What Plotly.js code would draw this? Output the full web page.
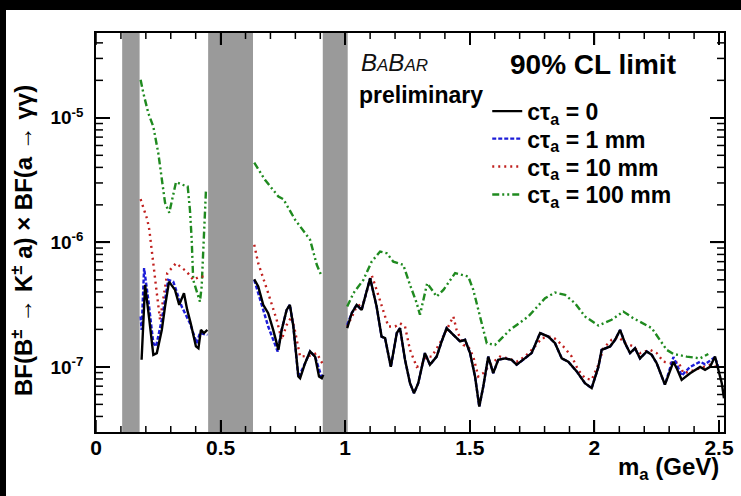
<!DOCTYPE html>
<html>
<head>
<meta charset="utf-8">
<script src="https://cdn.plot.ly/plotly-3.0.1.min.js"></script>
<style>
  html, body { margin: 0; padding: 0; background: #000; width: 741px; height: 496px; overflow: hidden; }
  #chart { position: absolute; left: 6px; top: 10px; width: 735px; height: 486px; background: #fff; }
</style>
</head>
<body>
<div id="chart"></div>
<script>
// 90% CL upper limits on BF(B± → K± a) × BF(a → γγ) versus m_a (GeV).
// Limits are stored in units of 1e-7; each series is split into the three
// mass windows between the vetoed pi0 / eta / eta' regions.

// Vetoed mass regions (GeV)
const vetoLow  = [0.105, 0.45, 0.91];
const vetoHigh = [0.175, 0.63, 1.01];

// c tau_a = 0
const mass0 = [
  [0.183,0.186,0.197,0.214,0.230,0.244,0.264,0.277,0.293,0.317,0.334,0.353,0.366,0.380,0.401,0.411,0.421,0.433,0.447],
  [0.635,0.651,0.671,0.691,0.711,0.732,0.745,0.765,0.778,0.792,0.812,0.819,0.839,0.859,0.879,0.895,0.906,0.912],
  [1.008,1.026,1.046,1.066,1.100,1.126,1.146,1.160,1.183,1.207,1.220,1.240,1.260,1.276,1.293,1.320,1.340,1.367,1.387,1.407,
   1.434,1.461,1.481,1.501,1.521,1.538,1.554,1.574,1.594,1.614,1.641,1.668,1.688,1.721,1.748,1.782,1.815,1.842,1.869,1.895,
   1.929,1.962,1.989,2.016,2.029,2.063,2.083,2.103,2.123,2.143,2.163,2.183,2.210,2.230,2.250,2.283,2.303,2.317,2.330,2.350,
   2.384,2.424,2.444,2.464,2.484,2.497,2.511,2.520]
];
const limit0 = [
  [1.14,1.65,4.56,2.39,1.25,1.29,1.98,3.05,4.84,4.15,3.15,3.91,2.87,2.24,1.46,1.41,1.98,1.87,1.98],
  [5.06,4.42,3.15,2.70,1.98,1.37,1.98,2.87,3.15,2.11,0.836,0.81,1.07,1.33,1.21,0.836,0.81,0.863],
  [2.05,2.70,3.15,2.87,5.15,3.05,1.75,1.70,1.00,1.87,2.05,1.14,0.74,0.615,0.74,1.29,1.04,1.21,1.60,2.05,
   1.81,1.60,1.65,1.29,0.836,0.48,0.695,1.21,0.89,1.14,1.17,1.14,1.04,1.17,1.29,1.87,1.75,1.55,1.17,1.10,
   0.92,0.74,0.675,1.00,1.37,1.46,1.65,1.98,1.55,1.29,1.41,1.17,1.33,1.25,1.07,0.72,0.946,1.10,0.977,0.787,
   0.89,1.00,0.946,1.00,1.21,0.946,0.74,0.56]
];

// c tau_a = 1 mm
const mass1 = [
  [0.179,0.183,0.193,0.210,0.230,0.241,0.264,0.290,0.310,0.344,0.377,0.404,0.417,0.447],
  [0.635,0.658,0.691,0.729,0.745,0.765,0.778,0.792,0.812,0.839,0.859,0.879,0.906,0.912],
  [1.008,1.026,1.046,1.066,1.100,1.126,1.146,1.160,1.183,1.207,1.220,1.240,1.260,1.276,1.293,1.320,1.340,1.367,1.387,1.407,
   1.434,1.461,1.481,1.501,1.521,1.538,1.554,1.574,1.594,1.614,1.641,1.668,1.688,1.721,1.748,1.782,1.815,1.842,1.869,1.895,
   1.929,1.962,1.989,2.016,2.029,2.063,2.083,2.103,2.123,2.143,2.163,2.183,2.210,2.230,2.250,2.283,2.303,2.317,2.330,2.350,
   2.384,2.424,2.444,2.464,2.484,2.497]
];
const limit1 = [
  [2.54,1.98,6.21,3.45,1.55,1.46,2.39,5.00,4.84,3.05,2.24,1.55,1.87,1.81],
  [5.00,3.45,2.11,1.33,1.98,2.87,3.15,2.11,0.82,1.07,1.33,1.21,0.82,0.863],
  [2.17,2.70,3.15,2.87,5.15,3.05,1.75,1.70,1.00,1.87,2.05,1.14,0.74,0.615,0.74,1.29,1.04,1.21,1.60,2.05,
   1.81,1.60,1.65,1.29,0.836,0.48,0.695,1.21,0.89,1.14,1.17,1.14,1.04,1.17,1.29,1.87,1.75,1.55,1.17,1.10,
   0.92,0.74,0.675,1.00,1.37,1.46,1.65,1.98,1.55,1.29,1.41,1.17,1.33,1.25,1.07,0.72,1.00,1.20,1.05,0.85,
   1.00,1.10,1.05,1.13,1.20,1.00]
];

// c tau_a = 10 mm
const mass10 = [
  [0.179,0.197,0.206,0.214,0.217,0.230,0.244,0.257,0.270,0.286,0.321,0.364,0.390,0.417,0.444],
  [0.635,0.651,0.691,0.725,0.745,0.765,0.785,0.799,0.819,0.859,0.886,0.908],
  [1.008,1.046,1.073,1.106,1.126,1.146,1.173,1.200,1.220,1.240,1.260,1.287,1.307,1.327,1.347,1.380,1.407,1.434,1.447,1.474,
   1.494,1.514,1.534,1.554,1.574,1.588,1.621,1.655,1.688,1.721,1.755,1.789,1.829,1.849,1.882,1.909,1.935,1.962,1.989,2.016,
   2.036,2.069,2.096,2.123,2.156,2.183,2.223,2.250,2.277,2.310,2.337,2.357,2.384,2.424,2.464,2.490]
];
const limit10 = [
  [22.2,17.2,15.2,12.6,11.1,6.8,3.91,2.39,3.45,5.66,6.8,5.82,5.00,5.31,5.31],
  [9.55,6.8,3.91,2.39,1.65,2.17,2.54,1.92,1.21,1.23,1.29,1.07],
  [2.11,3.05,3.25,5.48,4.15,3.05,2.11,2.11,2.24,2.11,1.37,1.00,1.04,1.21,1.21,1.55,1.98,2.54,1.98,1.50,
   1.46,1.21,0.836,0.89,1.00,1.07,1.21,1.17,1.10,1.21,1.41,1.70,1.75,1.65,1.41,1.21,0.946,0.81,0.787,1.04,
   1.41,1.65,1.75,1.55,1.46,1.29,1.37,1.29,1.10,1.07,1.10,0.89,0.92,0.977,1.04,1.00]
];

// c tau_a = 100 mm
const mass100 = [
  [0.179,0.190,0.210,0.230,0.250,0.264,0.277,0.294,0.310,0.321,0.357,0.368,0.377,0.384,0.390,0.404,0.417,0.424,0.431,0.437,0.441,0.445],
  [0.635,0.678,0.732,0.752,0.799,0.859,0.886,0.906],
  [1.008,1.033,1.073,1.106,1.140,1.167,1.193,1.233,1.260,1.287,1.300,1.329,1.367,1.394,1.441,1.494,1.514,1.541,1.568,1.601,
   1.661,1.735,1.802,1.842,1.882,1.922,1.962,2.016,2.069,2.116,2.156,2.230,2.263,2.290,2.317,2.370,2.424,2.457]
];
const limit100 = [
  [202,158,109,85,52,31.8,20.8,17.3,24.8,30.5,28.5,28.1,18.2,10.5,5.0,4.03,3.34,4.42,8.2,15.2,25.6,26.4],
  [43.7,31.8,23.3,22.2,15.2,10.5,6.6,5.31],
  [3.05,3.91,5.00,7.00,8.43,8.18,7.00,6.60,4.56,3.25,2.62,4.70,3.67,4.15,5.66,5.31,4.15,2.54,1.55,1.50,
   1.98,2.54,3.56,3.95,3.79,3.25,2.54,2.15,2.39,2.78,2.46,2.05,1.65,1.37,1.27,1.21,1.17,1.27]
];

const seriesNames = ['cτ<sub>a</sub> = 0', 'cτ<sub>a</sub> = 1 mm', 'cτ<sub>a</sub> = 10 mm', 'cτ<sub>a</sub> = 100 mm'];

// Axis tick positions
const xMajorTicks = [0, 0.5, 1, 1.5, 2, 2.5];
const xMinorTicks = [0.1,0.2,0.3,0.4,0.6,0.7,0.8,0.9,1.1,1.2,1.3,1.4,1.6,1.7,1.8,1.9,2.1,2.2,2.3,2.4];
const yTickVals = [1e-7, 1e-6, 1e-5];
const yTickText = ['10<sup>-7</sup>', '10<sup>-6</sup>', '10<sup>-5</sup>'];
const yMinorTicks = [4e-8,5e-8,6e-8,7e-8,8e-8,9e-8,
  2e-7,3e-7,4e-7,5e-7,6e-7,7e-7,8e-7,9e-7,
  2e-6,3e-6,4e-6,5e-6,6e-6,7e-6,8e-6,9e-6,
  2e-5,3e-5,4e-5];

const UNIT = 1e-7;
const FONT = 'Liberation Sans, Arial, Helvetica, sans-serif';

// Join the mass windows with null breaks so the vetoed regions stay empty
function joinWindows(xs, ys) {
  const x = [], y = [];
  xs.forEach((seg, i) => {
    if (i > 0) { x.push(null); y.push(null); }
    seg.forEach((v, j) => { x.push(v); y.push(ys[i][j] * UNIT); });
  });
  return { x, y };
}

// One legend per series so each entry sits on its own row
function limitTrace(xs, ys, name, color, dash, legendId) {
  const d = joinWindows(xs, ys);
  return {
    type: 'scatter', mode: 'lines', x: d.x, y: d.y, name: name,
    connectgaps: false, legend: legendId,
    line: { color: color, width: 2.4, dash: dash }
  };
}

const data = [
  limitTrace(mass100, limit100, seriesNames[3], '#1f8a1f', '7px,3px,2px,3px,2px,3px', 'legend4'),
  limitTrace(mass10,  limit10,  seriesNames[2], '#c0201e', '2px,4px', 'legend3'),
  limitTrace(mass1,   limit1,   seriesNames[1], '#1c1cd8', '4px,2px', 'legend2'),
  limitTrace(mass0,   limit0,   seriesNames[0], '#000000', 'solid', 'legend')
];

const vetoShapes = vetoLow.map((lo, i) => ({
  type: 'rect', xref: 'x', yref: 'paper', x0: lo, x1: vetoHigh[i], y0: 0, y1: 1,
  fillcolor: '#9a9a9a', line: { width: 0 }, layer: 'below'
}));

// ROOT-style inner tick marks on all four sides of the frame
const PLOT_W = 628, PLOT_H = 399;
const tickLine = { color: '#000', width: 1.5 };
function xTickMarks(vals, len) {
  const f = len / PLOT_H, out = [];
  vals.forEach(v => {
    out.push({ type: 'line', xref: 'x', yref: 'paper', x0: v, x1: v, y0: 0, y1: f, line: tickLine, layer: 'above' });
    out.push({ type: 'line', xref: 'x', yref: 'paper', x0: v, x1: v, y0: 1 - f, y1: 1, line: tickLine, layer: 'above' });
  });
  return out;
}
function yTickMarks(vals, len) {
  const f = len / PLOT_W, out = [];
  vals.forEach(v => {
    out.push({ type: 'line', xref: 'paper', yref: 'y', x0: 0, x1: f, y0: v, y1: v, line: tickLine, layer: 'above' });
    out.push({ type: 'line', xref: 'paper', yref: 'y', x0: 1 - f, x1: 1, y0: v, y1: v, line: tickLine, layer: 'above' });
  });
  return out;
}

const boldFont = (size) => ({ family: FONT, size: size, color: '#000', weight: 'bold' });

function legendAt(y) {
  return {
    x: 0.623, y: y, xanchor: 'left', yanchor: 'top',
    bgcolor: 'rgba(0,0,0,0)', borderwidth: 0, font: boldFont(23)
  };
}

const layout = {
  width: 735, height: 486,
  margin: { l: 90, r: 17, t: 23, b: 64 },
  showlegend: true,
  legend: legendAt(0.858),
  legend2: legendAt(0.789),
  legend3: legendAt(0.719),
  legend4: legendAt(0.649),
  xaxis: {
    range: [0, 2.52], tickmode: 'array', tickvals: xMajorTicks,
    showgrid: false, zeroline: false,
    showline: true, linecolor: '#000', linewidth: 1.5, mirror: 'ticks',
    ticks: 'inside', ticklen: 12, tickwidth: 1.5, tickcolor: '#000',
    tickfont: boldFont(21), ticklabelstandoff: -4
  },
  yaxis: {
    type: 'log', range: [Math.log10(3e-8), Math.log10(4.8e-5)],
    tickmode: 'array', tickvals: yTickVals, ticktext: yTickText,
    showgrid: false, zeroline: false,
    showline: true, linecolor: '#000', linewidth: 1.5, mirror: 'ticks',
    ticks: 'inside', ticklen: 14, tickwidth: 1.5, tickcolor: '#000',
    tickfont: boldFont(19), ticklabelstandoff: 7
  },
  shapes: vetoShapes
    .concat(xTickMarks(xMajorTicks, 12), xTickMarks(xMinorTicks, 6))
    .concat(yTickMarks(yTickVals, 14), yTickMarks(yMinorTicks, 7)),
  annotations: [
    { xref: 'paper', yref: 'paper', x: 0.791, y: 0.920, xanchor: 'center', yanchor: 'middle',
      text: '90% CL limit', showarrow: false, font: boldFont(28) },
    { xref: 'paper', yref: 'paper', x: 0.418, y: 0.925, xanchor: 'left', yanchor: 'middle',
      text: '<i>B<span style="font-size:17px">A</span>B<span style="font-size:17px">AR</span></i>',
      showarrow: false, font: { family: FONT, size: 24, color: '#111' } },
    { xref: 'paper', yref: 'paper', x: 0.415, y: 0.845, xanchor: 'left', yanchor: 'middle',
      text: 'preliminary', showarrow: false, font: boldFont(23) },
    { xref: 'paper', yref: 'paper', x: 0.995, y: -0.092, xanchor: 'right', yanchor: 'middle',
      text: 'm<sub>a</sub> (GeV)', showarrow: false, font: boldFont(24) },
    { xref: 'paper', yref: 'paper', x: -0.118, y: 0.481, xanchor: 'center', yanchor: 'middle',
      textangle: -90, text: 'BF(B<sup>±</sup> → K<sup>±</sup> a) × BF(a → γγ)',
      showarrow: false, font: boldFont(24) }
  ]
};

Plotly.newPlot('chart', data, layout, { displayModeBar: false });
</script>
</body>
</html>
